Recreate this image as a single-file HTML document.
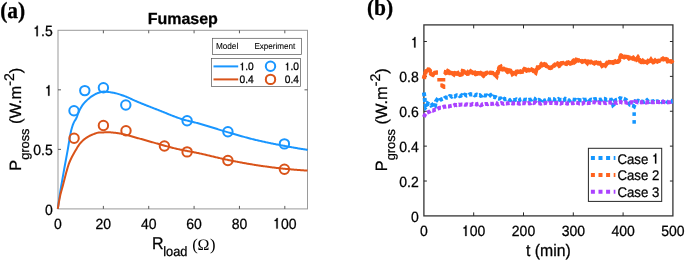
<!DOCTYPE html><html><head><meta charset="utf-8"><style>
html,body{margin:0;padding:0;background:#fff;width:685px;height:260px;overflow:hidden}
svg{display:block;will-change:transform}
text{font-family:"Liberation Sans", sans-serif;fill:#000;text-rendering:geometricPrecision;stroke:#000;stroke-width:0.25px}
</style></head><body>
<svg width="685" height="260" viewBox="0 0 685 260" xmlns="http://www.w3.org/2000/svg">
<rect width="685" height="260" fill="#fff"/>
<text transform="translate(0.20,18.30) scale(1,1.08)" style="font-family:'Liberation Serif', serif;font-weight:bold;font-size:21.5px">(a)</text>
<text transform="translate(182.75,23.60) scale(1,1.0)" text-anchor="middle" style="font-weight:bold;font-size:16px">Fumasep</text>
<rect x="58.0" y="30.3" width="249.5" height="178.6" fill="none" stroke="#9a9a9a" stroke-width="1"/>
<path d="M103.36,208.9v-3M103.36,30.3v3M148.73,208.9v-3M148.73,30.3v3M194.09,208.9v-3M194.09,30.3v3M239.45,208.9v-3M239.45,30.3v3M284.82,208.9v-3M284.82,30.3v3M58.0,149.37h3M307.5,149.37h-3M58.0,89.83h3M307.5,89.83h-3" stroke="#5a5a5a" stroke-width="1" fill="none"/>
<text transform="translate(58.00,228.60) scale(1,1.06)" text-anchor="middle" style="font-size:14px">0</text>
<text transform="translate(103.36,228.60) scale(1,1.06)" text-anchor="middle" style="font-size:14px">20</text>
<text transform="translate(148.73,228.60) scale(1,1.06)" text-anchor="middle" style="font-size:14px">40</text>
<text transform="translate(194.09,228.60) scale(1,1.06)" text-anchor="middle" style="font-size:14px">60</text>
<text transform="translate(239.45,228.60) scale(1,1.06)" text-anchor="middle" style="font-size:14px">80</text>
<text transform="translate(273.14,228.60) scale(1,1.06)" style="font-size:14px"> 00</text><path transform="translate(273.14,228.60) scale(0.01400,-0.01484)" d="M325,0L230,0L230,505L107,505L107,572C194,581 236,606 252,709L325,709Z" fill="#000" stroke="#000" stroke-width="17.9"/>
<text transform="translate(52.70,214.80) scale(1,1.06)" text-anchor="end" style="font-size:14px">0</text>
<text transform="translate(52.70,155.27) scale(1,1.06)" text-anchor="end" style="font-size:14px">0.5</text>
<text transform="translate(44.91,95.73) scale(1,1.06)" style="font-size:14px"> </text><path transform="translate(44.91,95.73) scale(0.01400,-0.01484)" d="M325,0L230,0L230,505L107,505L107,572C194,581 236,606 252,709L325,709Z" fill="#000" stroke="#000" stroke-width="17.9"/>
<text transform="translate(33.24,36.20) scale(1,1.06)" style="font-size:14px"> .5</text><path transform="translate(33.24,36.20) scale(0.01400,-0.01484)" d="M325,0L230,0L230,505L107,505L107,572C194,581 236,606 252,709L325,709Z" fill="#000" stroke="#000" stroke-width="17.9"/>
<polyline points="57.80,208.90 58.64,202.69 59.47,196.86 60.31,191.51 61.14,186.47 61.98,181.63 62.81,176.90 63.65,172.17 64.48,167.53 65.32,162.98 66.15,158.48 66.99,153.94 67.82,149.31 68.66,144.27 69.49,139.07 70.33,134.32 71.16,130.56 72.00,127.53 72.83,124.94 73.67,122.80 74.50,121.15 75.34,119.85 76.17,118.45 77.01,116.53 77.84,114.19 78.68,112.10 79.51,110.30 80.35,108.65 81.18,107.20 82.02,105.87 82.85,104.67 83.69,103.58 84.52,102.60 85.36,101.72 86.19,100.90 87.03,100.13 87.86,99.37 88.70,98.63 89.53,97.93 90.37,97.27 91.20,96.66 92.04,96.08 92.87,95.55 93.71,95.04 94.55,94.58 95.38,94.15 96.22,93.73 97.05,93.35 97.89,93.01 98.72,92.73 99.56,92.47 100.39,92.21 101.23,91.98 102.06,91.79 102.90,91.65 103.73,91.60 104.57,91.61 105.40,91.65 106.24,91.71 107.07,91.79 107.91,91.89 108.74,92.00 109.58,92.12 110.41,92.25 111.25,92.39 112.08,92.53 112.92,92.67 113.75,92.82 114.59,92.98 115.42,93.17 116.26,93.38 117.09,93.61 117.93,93.85 118.76,94.10 119.60,94.37 120.43,94.64 121.27,94.93 122.10,95.22 122.94,95.51 123.77,95.81 124.61,96.10 125.44,96.41 126.28,96.74 127.11,97.09 127.95,97.45 128.78,97.83 129.62,98.21 130.46,98.60 131.29,99.00 132.13,99.39 132.96,99.79 133.80,100.18 134.63,100.56 135.47,100.93 136.30,101.28 137.14,101.64 137.97,101.98 138.81,102.33 139.64,102.67 140.48,103.02 141.31,103.36 142.15,103.70 142.98,104.03 143.82,104.37 144.65,104.70 145.49,105.04 146.32,105.37 147.16,105.70 147.99,106.03 148.83,106.36 149.66,106.68 150.50,107.01 151.33,107.34 152.17,107.66 153.00,107.99 153.84,108.31 154.67,108.64 155.51,108.96 156.34,109.29 157.18,109.61 158.01,109.94 158.85,110.26 159.68,110.59 160.52,110.92 161.35,111.25 162.19,111.59 163.02,111.92 163.86,112.26 164.69,112.60 165.53,112.94 166.37,113.29 167.20,113.63 168.04,113.97 168.87,114.31 169.71,114.64 170.54,114.98 171.38,115.31 172.21,115.64 173.05,115.97 173.88,116.29 174.72,116.61 175.55,116.92 176.39,117.23 177.22,117.54 178.06,117.83 178.89,118.12 179.73,118.41 180.56,118.68 181.40,118.95 182.23,119.21 183.07,119.46 183.90,119.70 184.74,119.94 185.57,120.17 186.41,120.39 187.24,120.61 188.08,120.82 188.91,121.03 189.75,121.23 190.58,121.44 191.42,121.64 192.25,121.84 193.09,122.04 193.92,122.24 194.76,122.45 195.59,122.65 196.43,122.86 197.26,123.07 198.10,123.29 198.93,123.51 199.77,123.74 200.61,123.97 201.44,124.21 202.28,124.44 203.11,124.69 203.95,124.93 204.78,125.18 205.62,125.43 206.45,125.68 207.29,125.93 208.12,126.19 208.96,126.45 209.79,126.71 210.63,126.97 211.46,127.23 212.30,127.49 213.13,127.75 213.97,128.01 214.80,128.28 215.64,128.54 216.47,128.80 217.31,129.06 218.14,129.33 218.98,129.59 219.81,129.85 220.65,130.11 221.48,130.36 222.32,130.62 223.15,130.87 223.99,131.12 224.82,131.37 225.66,131.62 226.49,131.87 227.33,132.11 228.16,132.35 229.00,132.59 229.83,132.83 230.67,133.07 231.50,133.32 232.34,133.56 233.17,133.80 234.01,134.04 234.84,134.28 235.68,134.52 236.52,134.76 237.35,135.00 238.19,135.24 239.02,135.48 239.86,135.71 240.69,135.95 241.53,136.18 242.36,136.42 243.20,136.65 244.03,136.88 244.87,137.11 245.70,137.34 246.54,137.57 247.37,137.79 248.21,138.01 249.04,138.23 249.88,138.45 250.71,138.67 251.55,138.88 252.38,139.10 253.22,139.31 254.05,139.51 254.89,139.72 255.72,139.92 256.56,140.12 257.39,140.32 258.23,140.51 259.06,140.70 259.90,140.89 260.73,141.08 261.57,141.27 262.40,141.46 263.24,141.64 264.07,141.82 264.91,142.00 265.74,142.18 266.58,142.36 267.41,142.54 268.25,142.71 269.08,142.89 269.92,143.06 270.75,143.23 271.59,143.40 272.43,143.57 273.26,143.74 274.10,143.90 274.93,144.07 275.77,144.24 276.60,144.40 277.44,144.56 278.27,144.72 279.11,144.89 279.94,145.05 280.78,145.21 281.61,145.37 282.45,145.52 283.28,145.68 284.12,145.84 284.95,146.00 285.79,146.15 286.62,146.31 287.46,146.46 288.29,146.62 289.13,146.77 289.96,146.92 290.80,147.07 291.63,147.22 292.47,147.37 293.30,147.52 294.14,147.67 294.97,147.81 295.81,147.96 296.64,148.10 297.48,148.25 298.31,148.39 299.15,148.53 299.98,148.67 300.82,148.81 301.65,148.95 302.49,149.09 303.32,149.23 304.16,149.36 304.99,149.50 305.83,149.63 306.66,149.77 307.50,149.90" fill="none" stroke="#1996ff" stroke-width="2"/>
<polyline points="57.80,208.90 58.64,203.75 59.47,199.09 60.31,195.08 61.14,191.71 61.98,188.68 62.81,185.69 63.65,182.48 64.48,179.16 65.32,175.90 66.15,172.82 66.99,169.87 67.82,167.03 68.66,164.45 69.49,162.24 70.33,160.28 71.16,158.50 72.00,156.81 72.83,155.23 73.67,153.74 74.50,152.30 75.34,150.86 76.17,149.40 77.01,147.94 77.84,146.57 78.68,145.33 79.51,144.22 80.35,143.19 81.18,142.23 82.02,141.36 82.85,140.56 83.69,139.83 84.52,139.14 85.36,138.50 86.19,137.91 87.03,137.37 87.86,136.86 88.70,136.38 89.53,135.92 90.37,135.49 91.20,135.09 92.04,134.72 92.87,134.39 93.71,134.07 94.55,133.74 95.38,133.43 96.22,133.14 97.05,132.89 97.89,132.71 98.72,132.61 99.56,132.56 100.39,132.51 101.23,132.47 102.06,132.44 102.90,132.41 103.73,132.38 104.57,132.35 105.40,132.34 106.24,132.32 107.07,132.31 107.91,132.30 108.74,132.30 109.58,132.31 110.41,132.34 111.25,132.39 112.08,132.46 112.92,132.55 113.75,132.64 114.59,132.75 115.42,132.86 116.26,132.98 117.09,133.10 117.93,133.22 118.76,133.34 119.60,133.47 120.43,133.61 121.27,133.76 122.10,133.93 122.94,134.11 123.77,134.30 124.61,134.49 125.44,134.70 126.28,134.91 127.11,135.13 127.95,135.36 128.78,135.59 129.62,135.82 130.46,136.06 131.29,136.30 132.13,136.54 132.96,136.78 133.80,137.02 134.63,137.26 135.47,137.49 136.30,137.72 137.14,137.95 137.97,138.17 138.81,138.40 139.64,138.62 140.48,138.85 141.31,139.08 142.15,139.31 142.98,139.55 143.82,139.78 144.65,140.02 145.49,140.26 146.32,140.49 147.16,140.73 147.99,140.97 148.83,141.21 149.66,141.45 150.50,141.69 151.33,141.93 152.17,142.17 153.00,142.41 153.84,142.65 154.67,142.88 155.51,143.11 156.34,143.35 157.18,143.58 158.01,143.81 158.85,144.04 159.68,144.27 160.52,144.51 161.35,144.75 162.19,144.98 163.02,145.22 163.86,145.45 164.69,145.69 165.53,145.92 166.37,146.15 167.20,146.38 168.04,146.61 168.87,146.84 169.71,147.07 170.54,147.29 171.38,147.51 172.21,147.72 173.05,147.94 173.88,148.14 174.72,148.35 175.55,148.55 176.39,148.74 177.22,148.93 178.06,149.12 178.89,149.30 179.73,149.48 180.56,149.66 181.40,149.83 182.23,150.00 183.07,150.17 183.90,150.34 184.74,150.50 185.57,150.66 186.41,150.83 187.24,150.99 188.08,151.15 188.91,151.31 189.75,151.46 190.58,151.62 191.42,151.78 192.25,151.94 193.09,152.10 193.92,152.26 194.76,152.43 195.59,152.59 196.43,152.76 197.26,152.93 198.10,153.10 198.93,153.27 199.77,153.45 200.61,153.63 201.44,153.81 202.28,154.00 203.11,154.19 203.95,154.38 204.78,154.57 205.62,154.76 206.45,154.96 207.29,155.16 208.12,155.36 208.96,155.56 209.79,155.76 210.63,155.96 211.46,156.16 212.30,156.36 213.13,156.56 213.97,156.76 214.80,156.96 215.64,157.17 216.47,157.37 217.31,157.56 218.14,157.76 218.98,157.96 219.81,158.15 220.65,158.35 221.48,158.54 222.32,158.73 223.15,158.91 223.99,159.10 224.82,159.28 225.66,159.46 226.49,159.63 227.33,159.81 228.16,159.98 229.00,160.15 229.83,160.31 230.67,160.48 231.50,160.65 232.34,160.82 233.17,160.98 234.01,161.15 234.84,161.31 235.68,161.48 236.52,161.64 237.35,161.80 238.19,161.96 239.02,162.12 239.86,162.28 240.69,162.43 241.53,162.59 242.36,162.74 243.20,162.90 244.03,163.05 244.87,163.20 245.70,163.35 246.54,163.50 247.37,163.64 248.21,163.79 249.04,163.93 249.88,164.07 250.71,164.21 251.55,164.35 252.38,164.49 253.22,164.63 254.05,164.76 254.89,164.89 255.72,165.02 256.56,165.15 257.39,165.27 258.23,165.40 259.06,165.52 259.90,165.65 260.73,165.77 261.57,165.89 262.40,166.02 263.24,166.14 264.07,166.26 264.91,166.38 265.74,166.49 266.58,166.61 267.41,166.72 268.25,166.84 269.08,166.95 269.92,167.06 270.75,167.17 271.59,167.28 272.43,167.39 273.26,167.50 274.10,167.60 274.93,167.70 275.77,167.80 276.60,167.90 277.44,168.00 278.27,168.10 279.11,168.19 279.94,168.29 280.78,168.38 281.61,168.47 282.45,168.55 283.28,168.64 284.12,168.72 284.95,168.80 285.79,168.88 286.62,168.96 287.46,169.04 288.29,169.12 289.13,169.20 289.96,169.28 290.80,169.35 291.63,169.43 292.47,169.50 293.30,169.57 294.14,169.64 294.97,169.71 295.81,169.78 296.64,169.85 297.48,169.91 298.31,169.98 299.15,170.04 299.98,170.10 300.82,170.17 301.65,170.23 302.49,170.28 303.32,170.34 304.16,170.39 304.99,170.45 305.83,170.50 306.66,170.55 307.50,170.60" fill="none" stroke="#d95319" stroke-width="2"/>
<circle cx="74.0" cy="110.7" r="4.7" fill="none" stroke="#1996ff" stroke-width="2"/>
<circle cx="84.8" cy="90.6" r="4.7" fill="none" stroke="#1996ff" stroke-width="2"/>
<circle cx="103.4" cy="87.8" r="4.7" fill="none" stroke="#1996ff" stroke-width="2"/>
<circle cx="125.8" cy="105.0" r="4.7" fill="none" stroke="#1996ff" stroke-width="2"/>
<circle cx="187.1" cy="120.8" r="4.7" fill="none" stroke="#1996ff" stroke-width="2"/>
<circle cx="227.9" cy="131.8" r="4.7" fill="none" stroke="#1996ff" stroke-width="2"/>
<circle cx="284.4" cy="143.9" r="4.7" fill="none" stroke="#1996ff" stroke-width="2"/>
<circle cx="74.1" cy="138.3" r="4.7" fill="none" stroke="#d95319" stroke-width="2"/>
<circle cx="103.4" cy="125.5" r="4.7" fill="none" stroke="#d95319" stroke-width="2"/>
<circle cx="126.0" cy="130.8" r="4.7" fill="none" stroke="#d95319" stroke-width="2"/>
<circle cx="164.4" cy="146.0" r="4.7" fill="none" stroke="#d95319" stroke-width="2"/>
<circle cx="187.1" cy="151.9" r="4.7" fill="none" stroke="#d95319" stroke-width="2"/>
<circle cx="227.9" cy="160.5" r="4.7" fill="none" stroke="#d95319" stroke-width="2"/>
<circle cx="284.4" cy="169.3" r="4.7" fill="none" stroke="#d95319" stroke-width="2"/>
<rect x="212.5" y="38.3" width="89" height="16.2" fill="#fff" stroke="#555" stroke-width="0.7"/>
<text transform="translate(215.90,48.90) scale(1,1.06)" style="font-size:8.2px;stroke-width:0.08px">Model</text>
<text transform="translate(254.40,48.90) scale(1,1.06)" style="font-size:8.1px;stroke-width:0.08px">Experiment</text>
<rect x="211.5" y="58.4" width="89" height="28" fill="#fff" stroke="#555" stroke-width="0.7"/>
<line x1="213.5" y1="66.4" x2="238.2" y2="66.4" stroke="#1996ff" stroke-width="2"/>
<line x1="213.5" y1="79.4" x2="238.2" y2="79.4" stroke="#d95319" stroke-width="2"/>
<circle cx="270.5" cy="66.2" r="4.7" fill="none" stroke="#1996ff" stroke-width="2"/>
<circle cx="270.5" cy="79.4" r="4.7" fill="none" stroke="#d95319" stroke-width="2"/>
<text transform="translate(239.60,70.30) scale(1,1.06)" style="font-size:10.2px"> .0</text><path transform="translate(239.60,70.30) scale(0.01020,-0.01081)" d="M325,0L230,0L230,505L107,505L107,572C194,581 236,606 252,709L325,709Z" fill="#000" stroke="#000" stroke-width="24.5"/>
<text transform="translate(239.60,83.30) scale(1,1.06)" style="font-size:10.2px">0.4</text>
<text transform="translate(284.80,70.30) scale(1,1.06)" style="font-size:10.2px"> .0</text><path transform="translate(284.80,70.30) scale(0.01020,-0.01081)" d="M325,0L230,0L230,505L107,505L107,572C194,581 236,606 252,709L325,709Z" fill="#000" stroke="#000" stroke-width="24.5"/>
<text transform="translate(284.80,83.30) scale(1,1.06)" style="font-size:10.2px">0.4</text>
<text transform="translate(152.00,249.20) scale(1,1.06)" style="font-size:16px">R</text>
<text transform="translate(163.20,256.40) scale(1,1.06)" style="font-size:12.8px">load</text>
<text x="192.2" y="249.6" style="font-family:'Liberation Serif', serif;font-size:16.6px;stroke-width:0">(</text>
<text x="203.4" y="250.1" text-anchor="middle" style="font-family:'Liberation Serif', serif;font-size:16px;stroke-width:0">Ω</text>
<text x="209.9" y="249.6" style="font-family:'Liberation Serif', serif;font-size:16.6px;stroke-width:0">)</text>
<text transform="translate(21.0,170.8) rotate(-90)" style="font-size:16.4px"><tspan style="">P</tspan><tspan dy="7.8" style="font-size:12.8px">gross</tspan><tspan dy="-7.8" style=""> (W.m</tspan><tspan dy="-7.0" style="font-size:14.0px">-2</tspan><tspan dy="7.0" style="">)</tspan></text>
<text transform="translate(366.90,15.30) scale(1,1.08)" style="font-family:'Liberation Serif', serif;font-weight:bold;font-size:21.5px">(b)</text>
<rect x="423.9" y="24.9" width="249.0" height="191.0" fill="none" stroke="#333" stroke-width="1.3"/>
<path d="M473.70,215.9v-3.5M473.70,24.9v3.5M523.50,215.9v-3.5M523.50,24.9v3.5M573.30,215.9v-3.5M573.30,24.9v3.5M623.10,215.9v-3.5M623.10,24.9v3.5M423.9,181.02h3M672.9,181.02h-3M423.9,146.14h3M672.9,146.14h-3M423.9,111.26h3M672.9,111.26h-3M423.9,76.38h3M672.9,76.38h-3M423.9,41.50h3M672.9,41.50h-3" stroke="#262626" stroke-width="1" fill="none"/>
<text transform="translate(423.90,236.00) scale(1,1.06)" text-anchor="middle" style="font-size:14px">0</text>
<text transform="translate(462.02,236.00) scale(1,1.06)" style="font-size:14px"> 00</text><path transform="translate(462.02,236.00) scale(0.01400,-0.01484)" d="M325,0L230,0L230,505L107,505L107,572C194,581 236,606 252,709L325,709Z" fill="#000" stroke="#000" stroke-width="17.9"/>
<text transform="translate(523.50,236.00) scale(1,1.06)" text-anchor="middle" style="font-size:14px">200</text>
<text transform="translate(573.30,236.00) scale(1,1.06)" text-anchor="middle" style="font-size:14px">300</text>
<text transform="translate(623.10,236.00) scale(1,1.06)" text-anchor="middle" style="font-size:14px">400</text>
<text transform="translate(672.90,236.00) scale(1,1.06)" text-anchor="middle" style="font-size:14px">500</text>
<text transform="translate(418.70,221.90) scale(1,1.06)" text-anchor="end" style="font-size:14px">0</text>
<text transform="translate(418.70,187.02) scale(1,1.06)" text-anchor="end" style="font-size:14px">0.2</text>
<text transform="translate(418.70,152.14) scale(1,1.06)" text-anchor="end" style="font-size:14px">0.4</text>
<text transform="translate(418.70,117.26) scale(1,1.06)" text-anchor="end" style="font-size:14px">0.6</text>
<text transform="translate(418.70,82.38) scale(1,1.06)" text-anchor="end" style="font-size:14px">0.8</text>
<text transform="translate(410.91,47.50) scale(1,1.06)" style="font-size:14px"> </text><path transform="translate(410.91,47.50) scale(0.01400,-0.01484)" d="M325,0L230,0L230,505L107,505L107,572C194,581 236,606 252,709L325,709Z" fill="#000" stroke="#000" stroke-width="17.9"/>
<polyline points="423.90,92.52 424.90,100.75 425.89,107.15 426.89,106.19 427.88,103.47 428.88,104.14 429.88,104.68 430.87,105.57 431.87,104.90 432.86,107.06 433.86,107.00 434.86,106.78 435.85,101.51 436.85,99.97 437.84,100.83 438.84,101.52 439.84,100.02 440.83,99.65 441.83,99.16 442.82,98.82 443.82,98.84 444.82,97.89 445.81,97.39 446.81,97.81 447.80,97.75 448.80,97.06 449.80,95.98 450.79,96.08 451.79,96.72 452.78,96.11 453.78,96.19 454.78,96.51 455.77,95.72 456.77,95.26 457.76,95.39 458.76,95.21 459.76,96.11 460.75,95.92 461.75,95.21 462.74,96.14 463.74,95.65 464.74,94.76 465.73,94.98 466.73,95.58 467.72,95.37 468.72,94.96 469.72,94.42 470.71,94.13 471.71,94.57 472.70,94.45 473.70,94.60 474.70,95.34 475.69,95.06 476.69,94.53 477.68,94.82 478.68,95.32 479.68,95.16 480.67,95.79 481.67,95.63 482.66,94.56 483.66,95.40 484.66,95.56 485.65,95.42 486.65,95.31 487.64,95.84 488.64,96.58 489.64,95.74 490.63,95.13 491.63,96.31 492.62,97.20 493.62,96.71 494.62,97.15 495.61,97.09 496.61,97.70 497.60,98.44 498.60,98.61 499.60,98.46 500.59,98.31 501.59,99.17 502.58,100.01 503.58,99.49 504.58,98.83 505.57,99.24 506.57,99.06 507.56,99.16 508.56,99.76 509.56,100.14 510.55,100.19 511.55,99.43 512.54,99.68 513.54,100.41 514.54,100.02 515.53,99.75 516.53,99.44 517.52,99.99 518.52,100.84 519.52,100.41 520.51,99.37 521.51,99.09 522.50,99.45 523.50,99.84 524.50,99.81 525.49,99.78 526.49,99.59 527.48,99.79 528.48,100.04 529.48,99.79 530.47,99.64 531.47,99.52 532.46,98.80 533.46,98.34 534.46,98.72 535.45,100.00 536.45,100.66 537.44,100.14 538.44,99.83 539.44,100.43 540.43,100.20 541.43,98.99 542.42,99.88 543.42,100.62 544.42,100.44 545.41,100.07 546.41,99.55 547.40,98.83 548.40,99.13 549.40,99.60 550.39,99.47 551.39,99.11 552.38,98.90 553.38,99.04 554.38,99.70 555.37,100.26 556.37,100.16 557.36,99.55 558.36,99.02 559.36,99.67 560.35,100.07 561.35,99.79 562.34,99.88 563.34,100.39 564.34,99.96 565.33,98.74 566.33,99.00 567.32,100.09 568.32,100.42 569.32,100.70 570.31,100.09 571.31,99.31 572.30,99.49 573.30,99.68 574.30,99.64 575.29,99.71 576.29,100.30 577.28,100.51 578.28,99.92 579.28,100.04 580.27,100.25 581.27,100.27 582.26,100.21 583.26,99.61 584.26,99.64 585.25,100.00 586.25,99.56 587.24,99.28 588.24,98.96 589.24,99.94 590.23,100.24 591.23,99.67 592.22,99.92 593.22,99.45 594.22,99.11 595.21,99.04 596.21,99.37 597.20,99.17 598.20,99.32 599.20,99.95 600.19,99.56 601.19,99.71 602.18,99.22 603.18,98.66 604.18,98.65 605.17,99.03 606.17,99.95 607.16,99.88 608.16,99.48 609.16,99.75 610.15,99.87 611.15,99.67 612.14,101.38 613.14,104.95 614.14,104.14 615.13,100.64 616.13,99.94 617.12,99.74 618.12,99.60 619.12,99.07 620.11,98.10 621.11,98.31 622.10,98.67 623.10,98.35 624.10,98.69 625.09,99.42 626.09,99.83 627.08,100.81 628.08,102.03 629.08,103.68 630.07,104.81 631.07,104.89 632.06,105.43 633.06,105.62 634.06,106.32 635.05,103.78 636.05,98.59 637.04,100.77 638.04,100.72 639.04,100.87 640.03,101.12 641.03,101.38 642.02,101.40 643.02,101.88 644.02,101.89 645.01,101.56 646.01,101.12 647.00,100.25 648.00,101.37 649.00,101.79 649.99,101.15 650.99,101.59 651.98,101.37 652.98,101.17 653.98,102.01 654.97,101.96 655.97,101.39 656.96,101.27 657.96,101.68 658.96,101.51 659.95,100.82 660.95,101.47 661.94,101.98 662.94,101.62 663.94,101.60 664.93,100.96 665.93,100.69 666.92,101.70 667.92,102.07 668.92,101.74 669.91,100.65 670.91,100.71 671.90,101.50 672.90,101.27" fill="none" stroke="#1496ff" stroke-width="4" stroke-dasharray="3.8 1.8"/>
<polyline points="423.90,78.84 424.90,74.45 425.89,71.36 426.89,70.05 427.88,69.52 428.88,69.64 429.88,70.61 430.87,73.61 431.87,74.38 432.86,74.88 433.86,73.91 434.86,72.79 435.85,72.67 436.85,72.53 437.84,72.55" fill="none" stroke="#ff621e" stroke-width="3.2" stroke-linejoin="round"/><polyline points="423.90,78.84 424.90,74.45 425.89,71.36 426.89,70.05 427.88,69.52 428.88,69.64 429.88,70.61 430.87,73.61 431.87,74.38 432.86,74.88 433.86,73.91 434.86,72.79 435.85,72.67 436.85,72.53 437.84,72.55" fill="none" stroke="#ff621e" stroke-width="4.4" stroke-dasharray="3.8 1.4"/>
<polyline points="443.82,71.93 444.82,72.05 445.81,73.05 446.81,72.69 447.80,71.19 448.80,71.75 449.80,73.00 450.79,73.06 451.79,72.35 452.78,73.59 453.78,74.28 454.78,72.46 455.77,73.53 456.77,73.69 457.76,73.17 458.76,74.85 459.76,74.75 460.75,74.54 461.75,74.19 462.74,71.16 463.74,71.47 464.74,72.74 465.73,73.51 466.73,73.60 467.72,72.41 468.72,73.40 469.72,72.86 470.71,71.56 471.71,72.22 472.70,73.50 473.70,72.80 474.70,72.63 475.69,74.25 476.69,74.56 477.68,73.18 478.68,73.21 479.68,73.32 480.67,72.18 481.67,72.92 482.66,74.80 483.66,75.83 484.66,75.24 485.65,73.46 486.65,72.90 487.64,72.78 488.64,72.99 489.64,72.89 490.63,72.65 491.63,72.80 492.62,73.07 493.62,74.17 494.62,74.42 495.61,74.90 496.61,75.99 497.60,72.87 498.60,69.69 499.60,67.26 500.59,66.73 501.59,69.17 502.58,69.40 503.58,68.89 504.58,69.98 505.57,69.63 506.57,69.83 507.56,72.66 508.56,71.78 509.56,70.53 510.55,70.76 511.55,71.46 512.54,73.87 513.54,73.12 514.54,72.90 515.53,73.57 516.53,71.73 517.52,71.58 518.52,72.37 519.52,72.17 520.51,71.37 521.51,71.73 522.50,71.63 523.50,70.49 524.50,69.13 525.49,69.47 526.49,71.33 527.48,70.39 528.48,69.89 529.48,70.22 530.47,69.92 531.47,69.39 532.46,69.94 533.46,70.80 534.46,72.07 535.45,72.63 536.45,68.88 537.44,67.59 538.44,67.89 539.44,67.08 540.43,65.54 541.43,64.31 542.42,65.13 543.42,64.49 544.42,63.51 545.41,64.43 546.41,65.98 547.40,66.32 548.40,66.61 549.40,67.69 550.39,67.90 551.39,67.59 552.38,66.30 553.38,65.92 554.38,65.38 555.37,64.43 556.37,63.93 557.36,63.53 558.36,64.20 559.36,65.72 560.35,65.23 561.35,63.23 562.34,63.07 563.34,62.97 564.34,63.14 565.33,63.58 566.33,63.76 567.32,62.51 568.32,61.68 569.32,62.76 570.31,63.61 571.31,63.27 572.30,61.35 573.30,60.83 574.30,62.12 575.29,61.37 576.29,59.86 577.28,60.15 578.28,60.57 579.28,60.47 580.27,60.64 581.27,60.89 582.26,61.76 583.26,61.30 584.26,60.66 585.25,60.33 586.25,61.81 587.24,62.78 588.24,60.96 589.24,61.79 590.23,62.28 591.23,61.72 592.22,61.79 593.22,62.77 594.22,63.38 595.21,62.52 596.21,61.75 597.20,62.49 598.20,63.42 599.20,63.51 600.19,63.04 601.19,64.01 602.18,65.70 603.18,65.10 604.18,65.11 605.17,65.59 606.17,64.16 607.16,62.82 608.16,62.92 609.16,62.06 610.15,62.23 611.15,62.40 612.14,62.27 613.14,63.45 614.14,62.01 615.13,61.45 616.13,62.38 617.12,62.40 618.12,61.59 619.12,60.39 620.11,57.72 621.11,55.39 622.10,55.24 623.10,56.80 624.10,57.25 625.09,56.76 626.09,56.31 627.08,56.39 628.08,57.21 629.08,58.31 630.07,57.89 631.07,58.20 632.06,58.37 633.06,57.81 634.06,59.15 635.05,60.01 636.05,59.98 637.04,59.10 638.04,57.61 639.04,59.06 640.03,61.00 641.03,62.67 642.02,62.54 643.02,61.07 644.02,61.90 645.01,61.39 646.01,61.71 647.00,62.35 648.00,61.25 649.00,61.92 649.99,61.45 650.99,59.96 651.98,61.41 652.98,62.98 653.98,61.57 654.97,60.57 655.97,61.63 656.96,61.68 657.96,60.96 658.96,60.86 659.95,60.26 660.95,59.91 661.94,59.30 662.94,58.66 663.94,59.37 664.93,59.56 665.93,59.14 666.92,59.53 667.92,61.54 668.92,61.80 669.91,61.31 670.91,61.17 671.90,61.79 672.90,63.10" fill="none" stroke="#ff621e" stroke-width="3.2" stroke-linejoin="round"/><polyline points="443.82,71.93 444.82,72.05 445.81,73.05 446.81,72.69 447.80,71.19 448.80,71.75 449.80,73.00 450.79,73.06 451.79,72.35 452.78,73.59 453.78,74.28 454.78,72.46 455.77,73.53 456.77,73.69 457.76,73.17 458.76,74.85 459.76,74.75 460.75,74.54 461.75,74.19 462.74,71.16 463.74,71.47 464.74,72.74 465.73,73.51 466.73,73.60 467.72,72.41 468.72,73.40 469.72,72.86 470.71,71.56 471.71,72.22 472.70,73.50 473.70,72.80 474.70,72.63 475.69,74.25 476.69,74.56 477.68,73.18 478.68,73.21 479.68,73.32 480.67,72.18 481.67,72.92 482.66,74.80 483.66,75.83 484.66,75.24 485.65,73.46 486.65,72.90 487.64,72.78 488.64,72.99 489.64,72.89 490.63,72.65 491.63,72.80 492.62,73.07 493.62,74.17 494.62,74.42 495.61,74.90 496.61,75.99 497.60,72.87 498.60,69.69 499.60,67.26 500.59,66.73 501.59,69.17 502.58,69.40 503.58,68.89 504.58,69.98 505.57,69.63 506.57,69.83 507.56,72.66 508.56,71.78 509.56,70.53 510.55,70.76 511.55,71.46 512.54,73.87 513.54,73.12 514.54,72.90 515.53,73.57 516.53,71.73 517.52,71.58 518.52,72.37 519.52,72.17 520.51,71.37 521.51,71.73 522.50,71.63 523.50,70.49 524.50,69.13 525.49,69.47 526.49,71.33 527.48,70.39 528.48,69.89 529.48,70.22 530.47,69.92 531.47,69.39 532.46,69.94 533.46,70.80 534.46,72.07 535.45,72.63 536.45,68.88 537.44,67.59 538.44,67.89 539.44,67.08 540.43,65.54 541.43,64.31 542.42,65.13 543.42,64.49 544.42,63.51 545.41,64.43 546.41,65.98 547.40,66.32 548.40,66.61 549.40,67.69 550.39,67.90 551.39,67.59 552.38,66.30 553.38,65.92 554.38,65.38 555.37,64.43 556.37,63.93 557.36,63.53 558.36,64.20 559.36,65.72 560.35,65.23 561.35,63.23 562.34,63.07 563.34,62.97 564.34,63.14 565.33,63.58 566.33,63.76 567.32,62.51 568.32,61.68 569.32,62.76 570.31,63.61 571.31,63.27 572.30,61.35 573.30,60.83 574.30,62.12 575.29,61.37 576.29,59.86 577.28,60.15 578.28,60.57 579.28,60.47 580.27,60.64 581.27,60.89 582.26,61.76 583.26,61.30 584.26,60.66 585.25,60.33 586.25,61.81 587.24,62.78 588.24,60.96 589.24,61.79 590.23,62.28 591.23,61.72 592.22,61.79 593.22,62.77 594.22,63.38 595.21,62.52 596.21,61.75 597.20,62.49 598.20,63.42 599.20,63.51 600.19,63.04 601.19,64.01 602.18,65.70 603.18,65.10 604.18,65.11 605.17,65.59 606.17,64.16 607.16,62.82 608.16,62.92 609.16,62.06 610.15,62.23 611.15,62.40 612.14,62.27 613.14,63.45 614.14,62.01 615.13,61.45 616.13,62.38 617.12,62.40 618.12,61.59 619.12,60.39 620.11,57.72 621.11,55.39 622.10,55.24 623.10,56.80 624.10,57.25 625.09,56.76 626.09,56.31 627.08,56.39 628.08,57.21 629.08,58.31 630.07,57.89 631.07,58.20 632.06,58.37 633.06,57.81 634.06,59.15 635.05,60.01 636.05,59.98 637.04,59.10 638.04,57.61 639.04,59.06 640.03,61.00 641.03,62.67 642.02,62.54 643.02,61.07 644.02,61.90 645.01,61.39 646.01,61.71 647.00,62.35 648.00,61.25 649.00,61.92 649.99,61.45 650.99,59.96 651.98,61.41 652.98,62.98 653.98,61.57 654.97,60.57 655.97,61.63 656.96,61.68 657.96,60.96 658.96,60.86 659.95,60.26 660.95,59.91 661.94,59.30 662.94,58.66 663.94,59.37 664.93,59.56 665.93,59.14 666.92,59.53 667.92,61.54 668.92,61.80 669.91,61.31 670.91,61.17 671.90,61.79 672.90,63.10" fill="none" stroke="#ff621e" stroke-width="4.4" stroke-dasharray="3.8 1.4"/>
<path d="M437.3,78h8v3.4h-8zM440.3,83.4l1.8,-0.2l3.2,1.6v4.2h-1.8l-3.2,-2z" fill="#ff621e"/>
<polyline points="423.90,117.03 424.90,114.76 425.89,113.60 426.89,112.64 427.88,112.27 428.88,111.84 429.88,111.48 430.87,110.74 431.87,110.55 432.86,110.62 433.86,110.20 434.86,109.68 435.85,109.51 436.85,109.42 437.84,108.79 438.84,108.14 439.84,107.76 440.83,107.77 441.83,107.77 442.82,107.37 443.82,106.69 444.82,106.55 445.81,106.64 446.81,106.44 447.80,106.50 448.80,106.49 449.80,106.16 450.79,105.89 451.79,105.71 452.78,105.91 453.78,105.53 454.78,104.77 455.77,104.94 456.77,105.09 457.76,104.85 458.76,104.63 459.76,104.88 460.75,104.65 461.75,104.41 462.74,104.46 463.74,104.32 464.74,104.65 465.73,104.67 466.73,104.37 467.72,104.50 468.72,104.75 469.72,104.64 470.71,104.91 471.71,104.50 472.70,103.98 473.70,104.24 474.70,104.09 475.69,104.26 476.69,104.50 477.68,103.90 478.68,103.65 479.68,104.48 480.67,105.38 481.67,105.09 482.66,104.12 483.66,103.96 484.66,104.21 485.65,103.95 486.65,104.06 487.64,104.12 488.64,103.72 489.64,103.64 490.63,103.69 491.63,103.90 492.62,103.84 493.62,103.77 494.62,103.57 495.61,102.90 496.61,103.31 497.60,104.30 498.60,104.20 499.60,103.62 500.59,103.28 501.59,103.12 502.58,103.50 503.58,103.89 504.58,103.43 505.57,103.48 506.57,103.50 507.56,103.30 508.56,103.36 509.56,103.14 510.55,103.12 511.55,103.08 512.54,103.45 513.54,103.55 514.54,103.31 515.53,103.30 516.53,103.02 517.52,103.13 518.52,103.53 519.52,103.62 520.51,103.52 521.51,103.20 522.50,103.30 523.50,103.21 524.50,102.97 525.49,103.27 526.49,103.61 527.48,103.51 528.48,103.07 529.48,103.50 530.47,103.38 531.47,102.64 532.46,102.82 533.46,103.07 534.46,102.62 535.45,102.46 536.45,103.17 537.44,103.43 538.44,103.27 539.44,103.29 540.43,103.77 541.43,103.57 542.42,103.19 543.42,103.31 544.42,103.20 545.41,103.05 546.41,103.08 547.40,103.43 548.40,103.25 549.40,102.77 550.39,102.95 551.39,102.96 552.38,102.83 553.38,103.23 554.38,102.96 555.37,103.01 556.37,103.12 557.36,103.05 558.36,103.17 559.36,103.32 560.35,103.60 561.35,103.10 562.34,102.87 563.34,103.09 564.34,103.22 565.33,103.13 566.33,103.33 567.32,103.67 568.32,103.39 569.32,103.33 570.31,103.44 571.31,103.27 572.30,103.15 573.30,103.18 574.30,102.79 575.29,102.52 576.29,102.61 577.28,102.83 578.28,103.20 579.28,103.50 580.27,103.46 581.27,103.60 582.26,103.64 583.26,103.02 584.26,102.54 585.25,102.50 586.25,103.03 587.24,103.13 588.24,103.11 589.24,103.03 590.23,102.88 591.23,102.87 592.22,102.29 593.22,102.27 594.22,102.32 595.21,102.48 596.21,103.05 597.20,102.79 598.20,102.35 599.20,102.75 600.19,103.10 601.19,103.25 602.18,103.28 603.18,102.74 604.18,102.68 605.17,102.96 606.17,103.21 607.16,102.97 608.16,102.46 609.16,102.38 610.15,102.46 611.15,102.83 612.14,102.47 613.14,102.17 614.14,102.55 615.13,102.34 616.13,102.74 617.12,102.88 618.12,102.41 619.12,102.28 620.11,101.93 621.11,101.90 622.10,102.58 623.10,102.74 624.10,102.30 625.09,102.19 626.09,102.50 627.08,102.88 628.08,102.48 629.08,102.04 630.07,102.15 631.07,102.59 632.06,102.20 633.06,102.44 634.06,102.90 635.05,101.81 636.05,101.76 637.04,102.15 638.04,102.37 639.04,102.12 640.03,102.13 641.03,102.36 642.02,102.05 643.02,102.32 644.02,102.15 645.01,102.22 646.01,102.56 647.00,102.25 648.00,102.18 649.00,102.07 649.99,101.77 650.99,101.93 651.98,102.24 652.98,102.28 653.98,102.23 654.97,101.94 655.97,101.90 656.96,101.98 657.96,101.94 658.96,102.21 659.95,101.99 660.95,102.03 661.94,102.20 662.94,101.65 663.94,101.88 664.93,102.21 665.93,102.31 666.92,102.40 667.92,102.37 668.92,102.33 669.91,102.12 670.91,102.00 671.90,101.54 672.90,101.50" fill="none" stroke="#ab42ff" stroke-width="4" stroke-dasharray="3.8 1.8"/>
<rect x="632.4" y="112.3" width="3.5" height="3.6" fill="#1496ff"/><rect x="632.4" y="120.1" width="3.5" height="3.6" fill="#1496ff"/>
<rect x="588.4" y="148.3" width="73.3" height="53.1" fill="#fff" stroke="#262626" stroke-width="1"/>
<line x1="590.9" y1="158.1" x2="615.4" y2="158.1" stroke="#1496ff" stroke-width="4" stroke-dasharray="4 3.6"/>
<text transform="translate(617.50,163.50) scale(1,1.06)" style="font-size:13.2px">Case  </text><path transform="translate(651.98,163.50) scale(0.01320,-0.01399)" d="M325,0L230,0L230,505L107,505L107,572C194,581 236,606 252,709L325,709Z" fill="#000" stroke="#000" stroke-width="18.9"/>
<line x1="590.9" y1="174.9" x2="615.4" y2="174.9" stroke="#ff621e" stroke-width="4" stroke-dasharray="4 3.6"/>
<text transform="translate(617.50,180.00) scale(1,1.06)" style="font-size:13.2px">Case 2</text>
<line x1="590.9" y1="191.7" x2="615.4" y2="191.7" stroke="#ab42ff" stroke-width="4" stroke-dasharray="4 3.6"/>
<text transform="translate(617.50,196.60) scale(1,1.06)" style="font-size:13.2px">Case 3</text>
<text transform="translate(548.40,256.00) scale(1,1.06)" text-anchor="middle" style="font-size:15.8px">t (min)</text>
<text transform="translate(386.7,171.3) rotate(-90)" style="font-size:16.4px"><tspan style="">P</tspan><tspan dy="7.8" style="font-size:12.8px">gross</tspan><tspan dy="-7.8" style=""> (W.m</tspan><tspan dy="-7.0" style="font-size:14.0px">-2</tspan><tspan dy="7.0" style="">)</tspan></text>
</svg></body></html>
